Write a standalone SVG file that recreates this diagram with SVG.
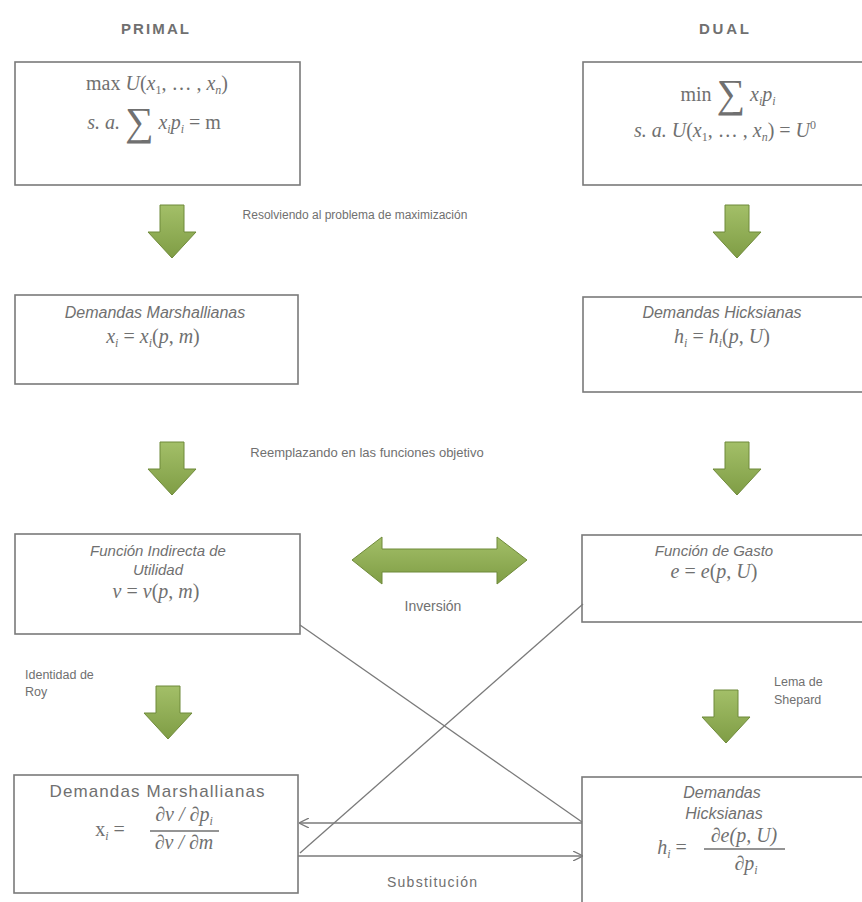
<svg xmlns="http://www.w3.org/2000/svg" width="862" height="902" viewBox="0 0 862 902">
<style>
.box{fill:#fff;stroke:#7a7a7a;stroke-width:1.6}
.lbl{font-family:"Liberation Sans",Arial,sans-serif;fill:#707070}
.it{font-style:italic}
.m{font-family:"Liberation Serif","Times New Roman",serif;fill:#707070;font-size:20px}
.hd{font-family:"Liberation Sans",Arial,sans-serif;fill:#707070;font-size:15px;font-weight:bold}
.ln{stroke:#7a7a7a;stroke-width:1.3;fill:none}
.ga{fill:url(#g);stroke:#6f8a3a;stroke-width:1}
.sb{font-size:12px}
</style>
<defs>
<linearGradient id="g" x1="0" y1="0" x2="0" y2="1">
<stop offset="0" stop-color="#a3bf68"/>
<stop offset="1" stop-color="#7f9d45"/>
</linearGradient>
<marker id="ah" viewBox="0 0 10 10" refX="9" refY="5" markerWidth="10" markerHeight="10" markerUnits="userSpaceOnUse" orient="auto">
<path d="M0,0 L10,5 L0,10" fill="none" stroke="#7a7a7a" stroke-width="1.3"/>
</marker>
<path id="down" d="M-12,0 H12 V27 H24 L0,53 L-24,27 H-12 Z"/>
</defs>
<rect width="862" height="902" fill="#fff"/>

<text class="hd" x="155" y="34" text-anchor="middle" textLength="68" lengthAdjust="spacing">PRIMAL</text>
<text class="hd" x="724" y="34" text-anchor="middle" textLength="50" lengthAdjust="spacing">DUAL</text>

<g id="primal-problem">
<rect class="box" x="15" y="62" width="285" height="123"/>
<text class="m" x="157" y="90" text-anchor="middle">max <tspan class="it">U</tspan>(<tspan class="it">x</tspan><tspan class="sb" dy="4">1</tspan><tspan dy="-4">, … , </tspan><tspan class="it">x</tspan><tspan class="sb it" dy="4">n</tspan><tspan dy="-4">)</tspan></text>
<text class="m" x="154" y="129" text-anchor="middle"><tspan class="it">s. a. </tspan><tspan font-size="40" dy="6">∑</tspan><tspan dy="-6"> </tspan><tspan class="it">x</tspan><tspan class="sb it" dy="4">i</tspan><tspan class="it" dy="-4">p</tspan><tspan class="sb it" dy="4">i</tspan><tspan dy="-4"> = m</tspan></text>
</g>

<g id="dual-problem">
<rect class="box" x="583" y="62" width="285" height="123"/>
<text class="m" x="728" y="101" text-anchor="middle">min <tspan font-size="40" dy="6">∑</tspan><tspan dy="-6"> </tspan><tspan class="it">x</tspan><tspan class="sb it" dy="4">i</tspan><tspan class="it" dy="-4">p</tspan><tspan class="sb it" dy="4">i</tspan></text>
<text class="m" x="725" y="137" text-anchor="middle"><tspan class="it">s. a. U</tspan>(<tspan class="it">x</tspan><tspan class="sb" dy="4">1</tspan><tspan dy="-4">, … , </tspan><tspan class="it">x</tspan><tspan class="sb it" dy="4">n</tspan><tspan dy="-4">)  = </tspan><tspan class="it">U</tspan><tspan class="sb" dy="-8">0</tspan></text>
</g>

<g id="arrows-row1">
<use href="#down" class="ga" x="172" y="205"/>
<use href="#down" class="ga" x="737" y="205"/>
<text class="lbl" x="355" y="219" text-anchor="middle" style="font-size:12px">Resolviendo al problema de maximización</text>
</g>

<g id="marshallian">
<rect class="box" x="15" y="295" width="283" height="89"/>
<text class="lbl it" x="155" y="318" text-anchor="middle" style="font-size:16px">Demandas Marshallianas</text>
<text class="m" x="153" y="343" text-anchor="middle"><tspan class="it">x</tspan><tspan class="sb it" dy="4">i</tspan><tspan dy="-4"> = </tspan><tspan class="it">x</tspan><tspan class="sb it" dy="4">i</tspan><tspan dy="-4">(</tspan><tspan class="it">p</tspan>, <tspan class="it">m</tspan>)</text>
</g>

<g id="hicksian">
<rect class="box" x="583" y="297" width="285" height="95"/>
<text class="lbl it" x="722" y="318" text-anchor="middle" style="font-size:16px">Demandas Hicksianas</text>
<text class="m" x="722" y="343" text-anchor="middle"><tspan class="it">h</tspan><tspan class="sb it" dy="4">i</tspan><tspan dy="-4"> = </tspan><tspan class="it">h</tspan><tspan class="sb it" dy="4">i</tspan><tspan dy="-4">(</tspan><tspan class="it">p</tspan>, <tspan class="it">U</tspan>)</text>
</g>

<g id="arrows-row2">
<use href="#down" class="ga" x="172" y="442"/>
<use href="#down" class="ga" x="737" y="442"/>
<text class="lbl" x="367" y="457" text-anchor="middle" style="font-size:13px">Reemplazando en las funciones objetivo</text>
</g>

<g id="indirect-utility">
<rect class="box" x="15" y="534" width="285" height="100"/>
<text class="lbl it" x="158" y="556" text-anchor="middle" style="font-size:15px">Función Indirecta de</text>
<text class="lbl it" x="158" y="575" text-anchor="middle" style="font-size:15px">Utilidad</text>
<text class="m" x="156" y="598" text-anchor="middle"><tspan class="it">v</tspan> = <tspan class="it">v</tspan>(<tspan class="it">p</tspan>, <tspan class="it">m</tspan>)</text>
</g>

<g id="expenditure">
<rect class="box" x="582" y="535" width="285" height="87"/>
<text class="lbl it" x="714" y="556" text-anchor="middle" style="font-size:15px">Función de Gasto</text>
<text class="m" x="714" y="578" text-anchor="middle"><tspan class="it">e</tspan> = <tspan class="it">e</tspan>(<tspan class="it">p</tspan>, <tspan class="it">U</tspan>)</text>
</g>

<g id="inversion">
<path class="ga" d="M352,560 L382,537 V549 H497 V537 L527,560 L497,584 V572 H382 V584 Z"/>
<text class="lbl" x="433" y="611" text-anchor="middle" style="font-size:14px">Inversión</text>
</g>

<g id="arrows-row4">
<use href="#down" class="ga" x="168" y="686"/>
<use href="#down" class="ga" x="726" y="690"/>
<text class="lbl" x="25" y="679" style="font-size:12.5px">Identidad de</text>
<text class="lbl" x="25" y="696" style="font-size:12.5px">Roy</text>
<text class="lbl" x="774" y="686" style="font-size:12.5px">Lema de</text>
<text class="lbl" x="774" y="704" style="font-size:12.5px">Shepard</text>
</g>

<g id="marshallian-roy">
<rect class="box" x="14" y="775" width="284" height="118"/>
<text class="lbl" x="157" y="797" text-anchor="middle" style="font-size:17px" textLength="215" lengthAdjust="spacing">Demandas Marshallianas</text>
<text class="m" x="110" y="836" text-anchor="middle"><tspan>x</tspan><tspan class="sb it" dy="4">i</tspan><tspan dy="-4"> =</tspan></text>
<text class="m it" x="184" y="821" text-anchor="middle">∂v / ∂p<tspan class="sb" dy="4">i</tspan></text>
<line x1="150" y1="831" x2="219" y2="831" stroke="#707070" stroke-width="1.3"/>
<text class="m it" x="184" y="849" text-anchor="middle">∂v / ∂m</text>
</g>

<g id="hicksian-shepard">
<rect class="box" x="582" y="777" width="285" height="135"/>
<text class="lbl it" x="722" y="798" text-anchor="middle" style="font-size:16px">Demandas</text>
<text class="lbl it" x="724" y="819" text-anchor="middle" style="font-size:16px">Hicksianas</text>
<text class="m" x="672" y="854" text-anchor="middle"><tspan class="it">h</tspan><tspan class="sb it" dy="4">i</tspan><tspan dy="-4"> =</tspan></text>
<text class="m it" x="744" y="842" text-anchor="middle">∂e(p, U)</text>
<line x1="704" y1="849" x2="785" y2="849" stroke="#707070" stroke-width="1.3"/>
<text class="m it" x="746" y="870" text-anchor="middle">∂p<tspan class="sb" dy="4">i</tspan></text>
</g>

<g id="connectors">
<line class="ln" x1="300" y1="625" x2="582" y2="822"/>
<line class="ln" x1="583" y1="604" x2="300" y2="853"/>
<line class="ln" x1="582" y1="823" x2="300" y2="823" marker-end="url(#ah)"/>
<line class="ln" x1="298" y1="856" x2="582" y2="856" marker-end="url(#ah)"/>
<text class="lbl" x="432" y="887" text-anchor="middle" style="font-size:14px" textLength="90" lengthAdjust="spacing">Substitución</text>
</g>
</svg>
